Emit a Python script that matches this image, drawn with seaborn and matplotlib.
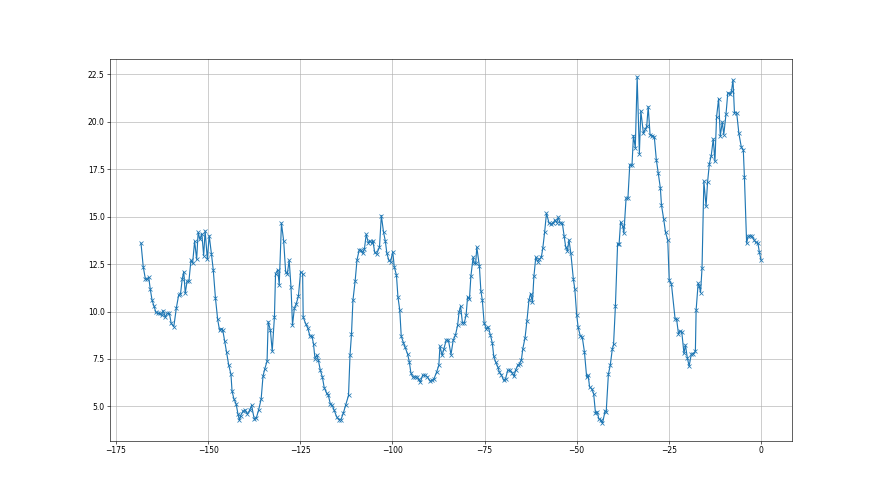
import matplotlib
matplotlib.use("Agg")
import matplotlib.pyplot as plt
import seaborn as sns
import pandas as pd

# x positions and the matching values
hours = [
    -168.2, -167.6, -167.0, -166.5, -166.1, -165.7, -165.2, -164.7, -164.15, -163.6,
    -163.1, -162.6, -162.2, -161.6, -161.1, -160.5, -160.0, -159.3, -158.6, -158.0,
    -157.5, -157.0, -156.6, -156.2, -155.7, -155.2, -154.65, -154.2, -153.65, -153.1,
    -152.7, -152.2, -151.7, -151.2, -150.8, -150.2, -149.7, -149.1, -148.6, -148.0,
    -147.4, -146.9, -146.4, -146.0, -145.5, -145.0, -144.4, -143.8, -143.5, -143.0,
    -142.4, -141.9, -141.5, -141.2, -140.5, -140.0, -139.35, -138.7, -138.2, -137.5,
    -136.9, -136.3, -135.6, -135.1, -134.6, -134.0, -133.7, -133.1, -132.6, -132.0,
    -131.7, -131.1, -130.7, -130.1, -129.5, -128.96, -128.5, -128.0, -127.5, -127.1,
    -126.6, -126.1, -125.5, -124.9, -124.35, -124.2, -123.5, -123.0, -122.36, -121.8,
    -121.4, -121.0, -120.5, -120.1, -119.55, -119.0, -118.5, -117.8, -117.4, -116.8,
    -116.3, -115.8, -115.1, -114.5, -113.95, -113.3, -112.7, -111.9, -111.5, -111.1,
    -110.7, -110.1, -109.6, -109.0, -108.6, -108.1, -107.6, -107.1, -106.5, -106.1,
    -105.6, -105.3, -104.8, -104.3, -103.5, -103.0, -102.4, -101.9, -101.5, -101.0,
    -100.5, -99.9, -99.5, -98.9, -98.5, -98.0, -97.6, -97.0, -96.6, -95.9,
    -95.4, -95.0, -94.5, -93.9, -93.3, -92.9, -92.4, -91.8, -91.1, -90.5,
    -89.8, -89.2, -88.7, -88.0, -87.4, -87.1, -86.5, -86.0, -85.4, -84.8,
    -84.1, -83.5, -82.9, -82.3, -81.9, -81.5, -81.0, -80.5, -80.0, -79.6,
    -79.1, -78.7, -78.1, -77.8, -77.4, -77.1, -76.4, -76.0, -75.6, -75.1,
    -74.5, -74.0, -73.4, -72.9, -72.5, -72.0, -71.4, -71.0, -70.4, -69.8,
    -69.3, -68.7, -68.1, -67.5, -67.0, -66.6, -66.0, -65.5, -65.0, -64.6,
    -64.0, -63.5, -62.95, -62.5, -62.0, -61.6, -61.1, -60.6, -60.15, -59.6,
    -59.2, -58.7, -58.2, -57.5, -57.0, -56.4, -55.9, -55.4, -55.0, -54.5,
    -53.9, -53.4, -53.0, -52.5, -52.1, -51.6, -50.9, -50.5, -50.0, -49.6,
    -49.0, -48.5, -47.9, -47.3, -46.9, -46.5, -45.95, -45.4, -44.9, -44.4,
    -44.0, -43.4, -43.0, -42.3, -42.0, -41.4, -40.9, -40.35, -40.0, -39.5,
    -38.9, -38.5, -38.1, -37.5, -37.2, -36.6, -36.1, -35.6, -35.0, -34.6,
    -34.1, -33.6, -33.0, -32.6, -31.9, -31.4, -31.0, -30.6, -30.1, -29.5,
    -28.95, -28.4, -27.9, -27.3, -27.0, -26.4, -25.9, -25.3, -24.9, -24.3,
    -23.3, -22.9, -22.4, -22.0, -21.5, -20.9, -20.5, -20.0, -19.5, -18.9,
    -18.4, -17.8, -17.6, -17.05, -16.75, -16.4, -16.0, -15.5, -14.9, -14.5,
    -14.0, -13.5, -12.95, -12.5, -12.05, -11.5, -11.05, -10.5, -10.1, -9.5,
    -9.0, -8.4, -8.0, -7.6, -7.2, -6.6, -6.0, -5.35, -4.8, -4.5,
    -3.9, -3.5, -2.9, -2.4, -1.9, -1.4, -0.84, -0.47, 0.0,
]

values = [
    13.6, 12.37, 11.7, 11.7, 11.8, 11.2, 10.6, 10.3, 9.95, 9.9,
    9.9, 9.8, 10.05, 9.7, 9.9, 9.9, 9.37, 9.2, 10.2, 10.85,
    10.9, 11.73, 12.1, 10.96, 11.6, 11.6, 12.7, 12.55, 13.7, 12.75,
    14.17, 13.8, 14.1, 12.95, 14.25, 12.75, 14.0, 13.05, 12.2, 10.7,
    9.58, 9.02, 9.1, 9.0, 8.45, 7.87, 7.17, 6.7, 5.8, 5.4,
    5.13, 4.6, 4.26, 4.5, 4.75, 4.8, 4.6, 4.8, 5.05, 4.35,
    4.4, 4.8, 5.39, 6.59, 6.99, 7.38, 9.46, 9.02, 7.91, 9.72,
    12.0, 12.2, 11.4, 14.66, 13.73, 12.1, 12.0, 12.7, 11.27, 9.28,
    10.16, 10.4, 10.8, 12.1, 12.0, 9.7, 9.35, 9.15, 8.7, 8.7,
    8.28, 7.52, 7.7, 7.45, 6.9, 6.55, 5.99, 5.68, 5.6, 5.1,
    5.05, 4.8, 4.44, 4.3, 4.3, 4.65, 5.05, 5.58, 7.69, 8.79,
    10.6, 11.62, 12.72, 13.25, 13.25, 13.07, 13.28, 14.07, 13.6, 13.74,
    13.6, 13.74, 13.12, 13.03, 13.39, 15.06, 14.18, 13.7, 13.07, 12.72,
    12.61, 13.16, 12.36, 11.92, 10.78, 10.07, 8.7, 8.35, 8.13, 7.78,
    7.34, 6.78, 6.55, 6.55, 6.55, 6.42, 6.27, 6.64, 6.64, 6.55,
    6.34, 6.37, 6.46, 6.81, 7.16, 8.17, 7.69, 8.05, 8.49, 8.49,
    7.73, 8.49, 8.75, 9.28, 9.99, 10.28, 9.4, 9.4, 9.81, 10.78,
    10.64, 11.87, 12.86, 12.54, 12.54, 13.39, 12.4, 11.1, 10.6, 9.37,
    9.1, 9.19, 8.75, 8.35, 7.64, 7.34, 7.08, 6.81, 6.64, 6.37,
    6.46, 6.9, 6.9, 6.76, 6.58, 6.9, 7.16, 7.25, 7.46, 8.05,
    8.63, 9.51, 10.6, 10.95, 10.51, 11.87, 12.86, 12.63, 12.75, 12.86,
    13.33, 14.18, 15.18, 14.66, 14.62, 14.66, 14.83, 14.69, 14.97, 14.66,
    14.66, 13.99, 13.42, 13.21, 13.78, 13.1, 11.7, 11.17, 9.81, 9.16,
    8.7, 8.66, 7.87, 6.55, 6.64, 6.02, 5.93, 5.67, 4.64, 4.7,
    4.34, 4.26, 4.11, 4.75, 4.7, 6.7, 7.16, 8.0, 8.27, 10.28,
    13.58, 13.55, 14.7, 14.49, 14.13, 15.98, 15.98, 17.75, 17.7, 19.28,
    18.63, 22.38, 18.33, 20.57, 19.39, 19.6, 19.77, 20.8, 19.33, 19.28,
    19.21, 18.01, 17.31, 16.51, 15.61, 14.87, 14.17, 13.78, 11.64, 11.45,
    9.6, 9.6, 8.84, 8.97, 8.93, 7.79, 8.23, 7.57, 7.12, 7.76,
    7.76, 7.91, 10.08, 11.49, 11.35, 11.0, 12.28, 16.87, 15.54, 16.81,
    17.8, 18.22, 19.1, 17.92, 20.27, 21.22, 19.25, 19.99, 19.33, 20.39,
    21.54, 21.45, 21.63, 22.21, 20.48, 20.48, 19.39, 18.68, 18.51, 17.1,
    13.6, 13.96, 13.99, 13.96, 13.78, 13.64, 13.6, 13.16, 12.72,
]

df = pd.DataFrame({"hour": hours, "value": values})

fig, ax = plt.subplots(figsize=(16, 9), dpi=55)

sns.lineplot(
    data=df,
    x="hour",
    y="value",
    marker="x",
    color="#1f77b4",
    markeredgecolor="#1f77b4",
    markeredgewidth=1,
    linewidth=1.5,
    ax=ax
)

ax.grid(True)
ax.set_xlabel("")
ax.set_ylabel("")

fig.savefig("out.png", dpi=55)
